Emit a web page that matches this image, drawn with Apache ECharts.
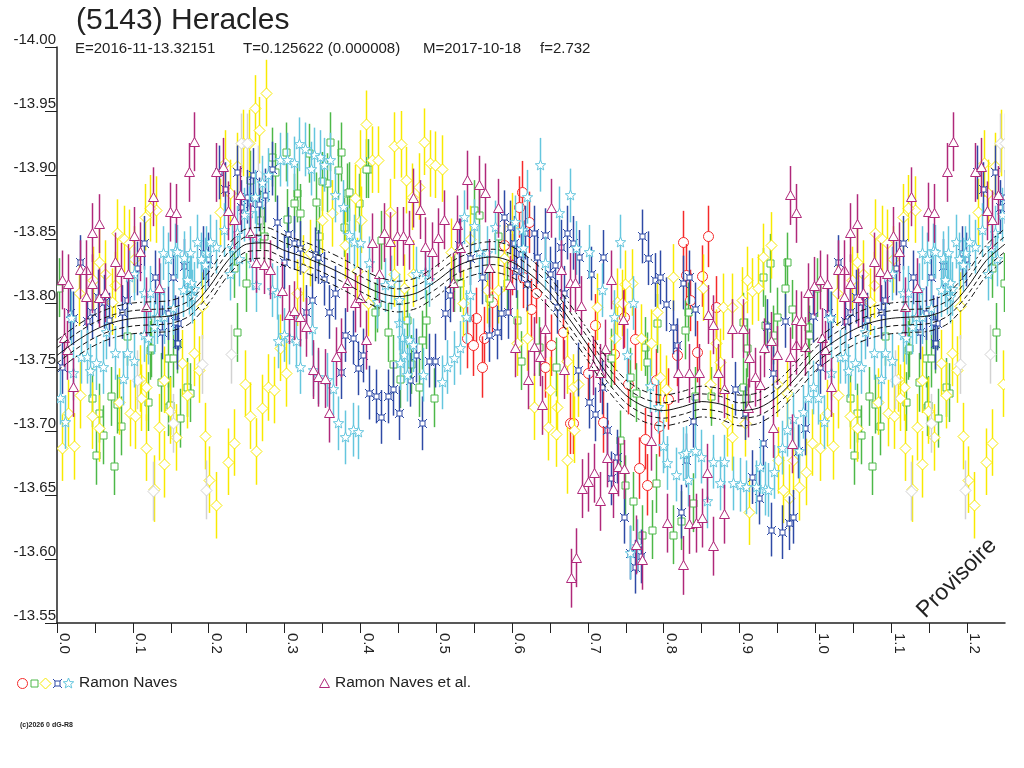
<!DOCTYPE html>
<html>
<head>
<meta charset="utf-8">
<title>(5143) Heracles</title>
<style>
html,body { margin:0; padding:0; width:100%; height:100%; background:#fff; }
#chart { width:1024px; height:768px; }
</style>
<script src="https://cdn.jsdelivr.net/npm/echarts@6/dist/echarts.min.js"></script>
</head>
<body>
<div id="chart"></div>
<script type="text/javascript">
// ---- data (phase, reduced magnitude) ----
var xTickLabels = ['0.0','0.1','0.2','0.3','0.4','0.5','0.6','0.7','0.8','0.9','1.0','1.1','1.2'];

// fitted curve and its envelope, sampled every 0.025 in phase
var curvePhase = [0,0.025,0.05,0.075,0.1,0.125,0.15,0.175,0.2,0.225,0.25,0.275,0.3,0.325,0.35,0.375,0.4,0.425,0.45,0.475,0.5,0.525,0.55,0.575,0.6,0.625,0.65,0.675,0.7,0.725,0.75,0.775,0.8,0.825,0.85,0.875,0.9,0.925,0.95,0.975,1,1.025,1.05,1.075,1.1,1.125,1.15,1.175,1.2,1.225,1.25];
var curveMid = [-13.759,-13.770,-13.779,-13.785,-13.788,-13.789,-13.790,-13.796,-13.812,-13.833,-13.846,-13.847,-13.841,-13.836,-13.830,-13.823,-13.815,-13.808,-13.805,-13.808,-13.817,-13.828,-13.834,-13.836,-13.832,-13.822,-13.808,-13.788,-13.767,-13.745,-13.728,-13.719,-13.716,-13.719,-13.723,-13.721,-13.716,-13.718,-13.727,-13.742,-13.759,-13.770,-13.779,-13.785,-13.788,-13.789,-13.790,-13.796,-13.812,-13.833,-13.846];
var curveUp2 = [-13.771,-13.782,-13.791,-13.797,-13.800,-13.801,-13.802,-13.808,-13.824,-13.845,-13.858,-13.859,-13.853,-13.848,-13.842,-13.835,-13.827,-13.820,-13.817,-13.820,-13.829,-13.840,-13.846,-13.848,-13.844,-13.834,-13.820,-13.800,-13.779,-13.757,-13.740,-13.731,-13.728,-13.731,-13.735,-13.733,-13.728,-13.730,-13.739,-13.754,-13.771,-13.782,-13.791,-13.797,-13.800,-13.801,-13.802,-13.808,-13.824,-13.845,-13.858];
var curveUp1 = [-13.765,-13.776,-13.785,-13.791,-13.794,-13.795,-13.796,-13.802,-13.818,-13.839,-13.852,-13.853,-13.847,-13.842,-13.836,-13.829,-13.821,-13.814,-13.811,-13.814,-13.823,-13.834,-13.840,-13.842,-13.838,-13.828,-13.814,-13.794,-13.773,-13.751,-13.734,-13.725,-13.722,-13.725,-13.729,-13.727,-13.722,-13.724,-13.733,-13.748,-13.765,-13.776,-13.785,-13.791,-13.794,-13.795,-13.796,-13.802,-13.818,-13.839,-13.852];
var curveLo1 = [-13.753,-13.764,-13.773,-13.779,-13.782,-13.783,-13.784,-13.790,-13.806,-13.827,-13.840,-13.841,-13.835,-13.830,-13.824,-13.817,-13.809,-13.802,-13.799,-13.802,-13.811,-13.822,-13.828,-13.830,-13.826,-13.816,-13.802,-13.782,-13.761,-13.739,-13.722,-13.713,-13.710,-13.713,-13.717,-13.715,-13.710,-13.712,-13.721,-13.736,-13.753,-13.764,-13.773,-13.779,-13.782,-13.783,-13.784,-13.790,-13.806,-13.827,-13.840];
var curveLo2 = [-13.747,-13.758,-13.767,-13.773,-13.776,-13.777,-13.778,-13.784,-13.800,-13.821,-13.834,-13.835,-13.829,-13.824,-13.818,-13.811,-13.803,-13.796,-13.793,-13.796,-13.805,-13.816,-13.822,-13.824,-13.820,-13.810,-13.796,-13.776,-13.755,-13.733,-13.716,-13.707,-13.704,-13.707,-13.711,-13.709,-13.704,-13.706,-13.715,-13.730,-13.747,-13.758,-13.767,-13.773,-13.776,-13.777,-13.778,-13.784,-13.800,-13.821,-13.834];

// observations, Ramon Naves (one array per session)
var redPts = [[0.613,-13.887],[0.609,-13.875],[0.623,-13.863],[0.590,-13.845],[0.553,-13.788],[0.540,-13.773],[0.549,-13.767],[0.563,-13.773],[0.560,-13.750],[0.573,-13.801],[0.631,-13.808],[0.652,-13.767],[0.643,-13.750],[0.677,-13.706],[0.825,-13.848],[0.859,-13.852],[0.830,-13.822],[0.851,-13.821],[0.747,-13.789],[0.710,-13.783],[0.667,-13.777],[0.762,-13.772],[0.844,-13.762],[0.817,-13.759],[0.753,-13.737],[0.680,-13.706],[0.720,-13.707],[0.775,-13.694],[0.778,-13.658],[0.767,-13.671],[0.794,-13.704],[0.869,-13.797],[0.834,-13.802],[0.600,-13.830],[0.615,-13.820],[0.700,-13.745],[0.735,-13.760],[0.790,-13.740],[0.805,-13.725],[0.625,-13.795]];
var greenPts = [[0.002,-13.812],[0.046,-13.726],[0.055,-13.714],[0.060,-13.697],[0.051,-13.681],[0.071,-13.727],[0.079,-13.721],[0.085,-13.704],[0.092,-13.774],[0.075,-13.673],[0.122,-13.763],[0.137,-13.738],[0.146,-13.757],[0.153,-13.757],[0.147,-13.719],[0.162,-13.710],[0.172,-13.734],[0.176,-13.730],[0.120,-13.723],[0.149,-13.720],[0.158,-13.768],[0.124,-13.765],[0.238,-13.777],[0.233,-13.827],[0.249,-13.816],[0.254,-13.896],[0.283,-13.914],[0.287,-13.902],[0.302,-13.918],[0.332,-13.917],[0.360,-13.926],[0.375,-13.918],[0.356,-13.894],[0.370,-13.904],[0.316,-13.886],[0.312,-13.878],[0.320,-13.870],[0.341,-13.879],[0.303,-13.866],[0.268,-13.865],[0.273,-13.852],[0.383,-13.886],[0.398,-13.878],[0.410,-13.905],[0.378,-13.859],[0.419,-13.793],[0.408,-13.905],[0.349,-13.895],[0.385,-13.887],[0.346,-13.852],[0.427,-13.849],[0.422,-13.800],[0.437,-13.777],[0.443,-13.752],[0.452,-13.741],[0.461,-13.787],[0.467,-13.752],[0.477,-13.734],[0.481,-13.771],[0.486,-13.787],[0.497,-13.726],[0.524,-13.816],[0.531,-13.816],[0.550,-13.873],[0.556,-13.869],[0.582,-13.852],[0.570,-13.804],[0.593,-13.816],[0.606,-13.787],[0.612,-13.755],[0.635,-13.766],[0.658,-13.750],[0.940,-13.831],[0.963,-13.832],[0.960,-13.812],[0.931,-13.820],[0.969,-13.795],[0.949,-13.789],[0.933,-13.783],[0.944,-13.775],[0.990,-13.781],[0.992,-13.775],[0.910,-13.765],[0.905,-13.785],[0.904,-13.734],[0.832,-13.793],[0.828,-13.779],[0.791,-13.784],[0.775,-13.766],[0.778,-13.754],[0.755,-13.742],[0.764,-13.730],[0.730,-13.757],[0.742,-13.693],[0.749,-13.658],[0.760,-13.645],[0.771,-13.619],[0.784,-13.623],[0.790,-13.659],[0.812,-13.619],[0.823,-13.630],[0.838,-13.644],[0.841,-13.727],[0.863,-13.727],[0.909,-13.726]];
var yellowPts = [[0.275,-13.964],[0.261,-13.952],[0.267,-13.935],[0.245,-13.925],[0.253,-13.925],[0.222,-13.909],[0.237,-13.907],[0.215,-13.871],[0.228,-13.886],[0.131,-13.873],[0.122,-13.874],[0.116,-13.867],[0.079,-13.855],[0.088,-13.850],[0.095,-13.847],[0.102,-13.834],[0.055,-13.832],[0.063,-13.823],[0.048,-13.818],[0.077,-13.814],[0.029,-13.808],[0.072,-13.801],[0.191,-13.798],[0.316,-13.808],[0.333,-13.839],[0.325,-13.827],[0.006,-13.687],[0.023,-13.688],[0.046,-13.712],[0.055,-13.702],[0.015,-13.714],[0.030,-13.728],[0.082,-13.723],[0.096,-13.714],[0.103,-13.712],[0.109,-13.741],[0.117,-13.734],[0.111,-13.726],[0.118,-13.687],[0.128,-13.655],[0.134,-13.703],[0.141,-13.674],[0.141,-13.740],[0.149,-13.716],[0.157,-13.695],[0.165,-13.753],[0.180,-13.761],[0.187,-13.748],[0.172,-13.728],[0.195,-13.696],[0.201,-13.662],[0.209,-13.642],[0.225,-13.676],[0.233,-13.691],[0.248,-13.737],[0.255,-13.712],[0.262,-13.684],[0.270,-13.718],[0.278,-13.734],[0.286,-13.732],[0.294,-13.765],[0.302,-13.745],[0.407,-13.940],[0.444,-13.923],[0.453,-13.924],[0.484,-13.926],[0.399,-13.909],[0.415,-13.912],[0.423,-13.912],[0.492,-13.909],[0.498,-13.908],[0.507,-13.905],[0.460,-13.896],[0.477,-13.891],[0.468,-13.883],[0.362,-13.870],[0.349,-13.865],[0.393,-13.882],[0.401,-13.865],[0.439,-13.871],[0.444,-13.823],[0.458,-13.812],[0.470,-13.823],[0.582,-13.810],[0.567,-13.810],[0.606,-13.769],[0.620,-13.773],[0.650,-13.732],[0.659,-13.719],[0.629,-13.719],[0.648,-13.703],[0.658,-13.698],[0.672,-13.755],[0.520,-13.840],[0.535,-13.800],[0.545,-13.850],[0.590,-13.835],[0.600,-13.860],[0.380,-13.845],[0.395,-13.825],[0.410,-13.800],[0.941,-13.845],[0.931,-13.836],[0.910,-13.818],[0.917,-13.809],[0.924,-13.812],[0.903,-13.802],[0.812,-13.820],[0.852,-13.812],[0.791,-13.793],[0.758,-13.816],[0.749,-13.815],[0.738,-13.801],[0.745,-13.800],[0.712,-13.797],[0.878,-13.797],[0.890,-13.797],[0.869,-13.769],[0.874,-13.754],[0.783,-13.769],[0.770,-13.773],[0.736,-13.773],[0.680,-13.734],[0.687,-13.737],[0.795,-13.742],[0.803,-13.733],[0.861,-13.737],[0.883,-13.706],[0.890,-13.695],[0.673,-13.677],[0.682,-13.701],[0.949,-13.737],[0.962,-13.730],[0.951,-13.677],[0.970,-13.677],[0.979,-13.656],[0.957,-13.654],[0.965,-13.648],[0.988,-13.668],[0.996,-13.691],[0.913,-13.637],[0.907,-13.706]];
var greyPts = [[0.126,-13.653],[0.197,-13.654],[0.243,-13.925],[0.250,-13.925],[0.191,-13.752],[0.153,-13.706],[0.265,-13.900],[0.270,-13.880],[0.105,-13.740],[0.230,-13.760]];
var bluePts = [[0.030,-13.832],[0.017,-13.792],[0.046,-13.793],[0.054,-13.805],[0.062,-13.801],[0.092,-13.802],[0.106,-13.827],[0.115,-13.847],[0.129,-13.820],[0.153,-13.820],[0.168,-13.829],[0.146,-13.792],[0.160,-13.784],[0.213,-13.902],[0.237,-13.902],[0.221,-13.889],[0.259,-13.900],[0.254,-13.878],[0.274,-13.884],[0.267,-13.877],[0.283,-13.905],[0.290,-13.863],[0.305,-13.854],[0.312,-13.847],[0.299,-13.832],[0.336,-13.802],[0.328,-13.793],[0.340,-13.838],[0.243,-13.875],[0.250,-13.883],[0.193,-13.839],[0.199,-13.834],[0.006,-13.750],[0.021,-13.788],[0.039,-13.786],[0.086,-13.793],[0.068,-13.787],[0.138,-13.777],[0.158,-13.769],[0.155,-13.785],[0.320,-13.843],[0.344,-13.836],[0.352,-13.819],[0.366,-13.808],[0.358,-13.793],[0.380,-13.775],[0.390,-13.773],[0.403,-13.759],[0.397,-13.749],[0.374,-13.746],[0.412,-13.730],[0.420,-13.727],[0.436,-13.727],[0.427,-13.711],[0.451,-13.714],[0.443,-13.733],[0.473,-13.759],[0.490,-13.755],[0.498,-13.755],[0.481,-13.706],[0.465,-13.740],[0.511,-13.792],[0.518,-13.806],[0.530,-13.845],[0.545,-13.835],[0.561,-13.820],[0.570,-13.775],[0.580,-13.777],[0.586,-13.792],[0.595,-13.793],[0.589,-13.867],[0.597,-13.859],[0.602,-13.847],[0.605,-13.825],[0.612,-13.838],[0.620,-13.815],[0.617,-13.855],[0.629,-13.855],[0.643,-13.853],[0.633,-13.836],[0.650,-13.823],[0.656,-13.830],[0.668,-13.808],[0.672,-13.855],[0.680,-13.847],[0.665,-13.844],[0.659,-13.797],[0.688,-13.836],[0.704,-13.823],[0.720,-13.836],[0.772,-13.852],[0.779,-13.835],[0.788,-13.818],[0.795,-13.820],[0.803,-13.799],[0.812,-13.781],[0.817,-13.767],[0.826,-13.816],[0.833,-13.820],[0.841,-13.795],[0.687,-13.748],[0.701,-13.723],[0.710,-13.713],[0.718,-13.734],[0.725,-13.701],[0.731,-13.663],[0.738,-13.680],[0.747,-13.633],[0.755,-13.605],[0.770,-13.602],[0.762,-13.594],[0.823,-13.637],[0.830,-13.677],[0.838,-13.708],[0.894,-13.733],[0.907,-13.714],[0.916,-13.664],[0.925,-13.648],[0.941,-13.623],[0.956,-13.621],[0.965,-13.628],[0.970,-13.633],[0.931,-13.691],[0.944,-13.745],[0.936,-13.782],[0.960,-13.786],[0.986,-13.702],[0.977,-13.684],[0.997,-13.790]];
var cyanPts = [[0.319,-13.924],[0.327,-13.920],[0.339,-13.916],[0.294,-13.912],[0.303,-13.912],[0.312,-13.909],[0.335,-13.905],[0.278,-13.900],[0.270,-13.894],[0.261,-13.883],[0.253,-13.870],[0.246,-13.869],[0.263,-13.851],[0.257,-13.831],[0.263,-13.814],[0.283,-13.810],[0.290,-13.808],[0.237,-13.855],[0.220,-13.857],[0.231,-13.843],[0.210,-13.844],[0.202,-13.848],[0.185,-13.848],[0.197,-13.839],[0.190,-13.834],[0.175,-13.839],[0.155,-13.841],[0.140,-13.839],[0.147,-13.834],[0.168,-13.835],[0.101,-13.823],[0.095,-13.820],[0.115,-13.808],[0.122,-13.808],[0.136,-13.810],[0.166,-13.810],[0.174,-13.812],[0.180,-13.811],[0.178,-13.805],[0.195,-13.830],[0.228,-13.823],[0.240,-13.834],[0.132,-13.789],[0.141,-13.789],[0.128,-13.781],[0.115,-13.775],[0.120,-13.773],[0.065,-13.777],[0.019,-13.788],[0.299,-13.775],[0.306,-13.773],[0.336,-13.780],[0.004,-13.726],[0.011,-13.707],[0.021,-13.745],[0.032,-13.758],[0.039,-13.758],[0.043,-13.747],[0.052,-13.753],[0.060,-13.750],[0.077,-13.761],[0.092,-13.761],[0.101,-13.755],[0.087,-13.741],[0.153,-13.796],[0.158,-13.840],[0.177,-13.816],[0.171,-13.818],[0.292,-13.770],[0.315,-13.770],[0.321,-13.750],[0.337,-13.748],[0.344,-13.742],[0.356,-13.740],[0.364,-13.733],[0.370,-13.706],[0.380,-13.695],[0.390,-13.701],[0.397,-13.699],[0.637,-13.908],[0.676,-13.884],[0.620,-13.883],[0.662,-13.870],[0.347,-13.914],[0.360,-13.912],[0.352,-13.908],[0.366,-13.884],[0.377,-13.875],[0.385,-13.853],[0.391,-13.848],[0.400,-13.847],[0.412,-13.831],[0.422,-13.801],[0.432,-13.814],[0.441,-13.816],[0.451,-13.784],[0.455,-13.773],[0.464,-13.771],[0.470,-13.767],[0.457,-13.759],[0.452,-13.753],[0.461,-13.744],[0.482,-13.744],[0.507,-13.738],[0.514,-13.750],[0.523,-13.757],[0.531,-13.765],[0.539,-13.789],[0.545,-13.806],[0.474,-13.823],[0.485,-13.824],[0.491,-13.818],[0.536,-13.867],[0.550,-13.860],[0.557,-13.840],[0.567,-13.839],[0.577,-13.859],[0.604,-13.863],[0.613,-13.857],[0.643,-13.831],[0.615,-13.843],[0.451,-13.802],[0.742,-13.848],[0.684,-13.843],[0.701,-13.840],[0.718,-13.810],[0.759,-13.800],[0.734,-13.789],[0.751,-13.759],[0.782,-13.735],[0.792,-13.719],[0.799,-13.688],[0.804,-13.675],[0.816,-13.666],[0.825,-13.682],[0.830,-13.683],[0.841,-13.684],[0.849,-13.680],[0.832,-13.662],[0.857,-13.645],[0.865,-13.676],[0.874,-13.659],[0.880,-13.676],[0.891,-13.659],[0.900,-13.658],[0.909,-13.656],[0.922,-13.656],[0.933,-13.655],[0.937,-13.654],[0.946,-13.668],[0.956,-13.687],[0.970,-13.709],[0.963,-13.701],[0.979,-13.684],[0.990,-13.726],[0.997,-13.734],[0.983,-13.715],[0.927,-13.672],[0.755,-13.605],[0.765,-13.610]];
// observations, Ramon Naves et al.
var purplePts = [[0.181,-13.926],[0.174,-13.902],[0.126,-13.883],[0.149,-13.871],[0.157,-13.870],[0.055,-13.862],[0.046,-13.855],[0.102,-13.852],[0.110,-13.840],[0.077,-13.832],[0.030,-13.826],[0.038,-13.826],[0.085,-13.824],[0.094,-13.823],[0.046,-13.815],[0.006,-13.818],[0.015,-13.815],[0.038,-13.805],[0.056,-13.804],[0.063,-13.808],[0.134,-13.812],[0.118,-13.797],[0.210,-13.902],[0.219,-13.906],[0.226,-13.872],[0.233,-13.865],[0.241,-13.884],[0.255,-13.855],[0.263,-13.831],[0.273,-13.830],[0.281,-13.826],[0.297,-13.809],[0.306,-13.791],[0.312,-13.794],[0.320,-13.789],[0.328,-13.781],[0.009,-13.773],[0.021,-13.734],[0.013,-13.763],[0.337,-13.748],[0.344,-13.742],[0.354,-13.741],[0.358,-13.714],[0.368,-13.758],[0.375,-13.765],[0.393,-13.800],[0.400,-13.804],[0.407,-13.771],[0.415,-13.847],[0.382,-13.816],[0.540,-13.896],[0.556,-13.892],[0.564,-13.886],[0.470,-13.882],[0.478,-13.873],[0.510,-13.865],[0.527,-13.861],[0.582,-13.874],[0.652,-13.874],[0.431,-13.855],[0.439,-13.848],[0.448,-13.852],[0.456,-13.852],[0.464,-13.849],[0.485,-13.844],[0.494,-13.840],[0.503,-13.851],[0.532,-13.843],[0.570,-13.827],[0.424,-13.823],[0.597,-13.814],[0.604,-13.765],[0.621,-13.740],[0.629,-13.766],[0.637,-13.758],[0.643,-13.780],[0.639,-13.720],[0.668,-13.748],[0.665,-13.826],[0.676,-13.816],[0.522,-13.816],[0.683,-13.816],[0.691,-13.798],[0.730,-13.818],[0.746,-13.787],[0.707,-13.751],[0.722,-13.764],[0.716,-13.745],[0.692,-13.655],[0.700,-13.660],[0.708,-13.667],[0.716,-13.645],[0.725,-13.679],[0.733,-13.655],[0.740,-13.672],[0.747,-13.670],[0.764,-13.611],[0.771,-13.599],[0.684,-13.601],[0.678,-13.585],[0.783,-13.692],[0.804,-13.628],[0.825,-13.595],[0.833,-13.627],[0.842,-13.628],[0.850,-13.632],[0.865,-13.610],[0.880,-13.635],[0.857,-13.667],[0.819,-13.745],[0.833,-13.745],[0.847,-13.745],[0.872,-13.745],[0.858,-13.791],[0.865,-13.783],[0.880,-13.733],[0.890,-13.780],[0.904,-13.780],[0.912,-13.757],[0.920,-13.742],[0.927,-13.736],[0.942,-13.770],[0.932,-13.765],[0.950,-13.759],[0.966,-13.758],[0.975,-13.767],[0.986,-13.766],[0.990,-13.808],[0.998,-13.813],[0.974,-13.787],[0.981,-13.786],[0.911,-13.718],[0.944,-13.702],[0.969,-13.690],[0.966,-13.884],[0.975,-13.870]];

// half length of the error bars (mag)
var redErr = 0.024, greenErr = 0.023, yellowErr = 0.026, greyErr = 0.023;
var blueErr = 0.021, cyanErr = 0.021, purpleErr = 0.023;

var FONT = '"Liberation Sans", Arial, sans-serif';
var INK = '#222';

// the plot repeats phases 0 - 0.25 after phase 1
function wrapPhase(points) {
  var out = points.slice();
  points.forEach(function (p) {
    if (p[0] + 1 <= 1.25) out.push([p[0] + 1, p[1]]);
  });
  return out;
}

// hollow marker shapes
function marker(kind, x, y, color) {
  var st = { fill: '#fff', stroke: color, lineWidth: 1 };
  if (kind === 'circle') {
    return { type: 'circle', shape: { cx: x, cy: y, r: 5 }, style: st };
  } else if (kind === 'square') {
    return { type: 'rect', shape: { x: x - 3.5, y: y - 3.5, width: 7, height: 7 }, style: st };
  } else if (kind === 'diamond') {
    return { type: 'polygon', shape: { points: [[x, y - 5.5], [x + 5.5, y], [x, y + 5.5], [x - 5.5, y]] }, style: st };
  } else if (kind === 'triangle') {
    return { type: 'polygon', shape: { points: [[x, y - 5], [x + 5, y + 4], [x - 5, y + 4]] }, style: st };
  } else if (kind === 'star') {
    var pts = [];
    for (var k = 0; k < 10; k++) {
      var a = -Math.PI / 2 + k * Math.PI / 5;
      var r = (k % 2 === 0) ? 5.5 : 2.4;
      pts.push([x + r * Math.cos(a), y + r * Math.sin(a)]);
    }
    return { type: 'polygon', shape: { points: pts }, style: st };
  }
  // square with little spikes on the corners
  return {
    type: 'group',
    children: [
      { type: 'rect', shape: { x: x - 2.5, y: y - 2.5, width: 5, height: 5 }, style: st },
      { type: 'line', shape: { x1: x - 2.5, y1: y - 2.5, x2: x - 4.5, y2: y - 4.5 }, style: { stroke: color, lineWidth: 1 } },
      { type: 'line', shape: { x1: x + 2.5, y1: y - 2.5, x2: x + 4.5, y2: y - 4.5 }, style: { stroke: color, lineWidth: 1 } },
      { type: 'line', shape: { x1: x - 2.5, y1: y + 2.5, x2: x - 4.5, y2: y + 4.5 }, style: { stroke: color, lineWidth: 1 } },
      { type: 'line', shape: { x1: x + 2.5, y1: y + 2.5, x2: x + 4.5, y2: y + 4.5 }, style: { stroke: color, lineWidth: 1 } }
    ]
  };
}

function obsSeries(name, points, kind, color, err) {
  return {
    name: name,
    type: 'custom',
    clip: true,
    data: wrapPhase(points),
    renderItem: function (params, api) {
      var ph = api.value(0), mag = api.value(1);
      var c = api.coord([ph, mag]);
      var top = api.coord([ph, mag - err]);
      var bot = api.coord([ph, mag + err]);
      var x = Math.round(c[0]) + 0.5, y = Math.round(c[1]) + 0.5;
      return {
        type: 'group',
        children: [
          { type: 'line', shape: { x1: x, y1: top[1], x2: x, y2: bot[1] }, style: { stroke: color, lineWidth: 1.5 } },
          marker(kind, x, y, color)
        ]
      };
    }
  };
}

function curveSeries(values, dash, width) {
  return {
    type: 'line',
    data: curvePhase.map(function (p, i) { return [p, values[i]]; }),
    smooth: 0.3,
    symbol: 'none',
    silent: true,
    z: 5,
    lineStyle: { color: '#111', width: width, type: dash }
  };
}

var chart = echarts.init(document.getElementById('chart'));
var option = {
  animation: false,
  backgroundColor: '#fff',
  textStyle: { fontFamily: FONT },
  grid: { left: 57, right: 19, top: 47, bottom: 145 },
  xAxis: {
    type: 'value',
    min: 0,
    max: 1.25,
    interval: 0.05,
    splitLine: { show: false },
    axisLine: { onZero: false, lineStyle: { color: INK, width: 1.5 } },
    axisTick: { length: 10, lineStyle: { color: INK, width: 1 } },
    axisLabel: {
      rotate: -90,
      margin: 10,
      verticalAlign: 'bottom',
      fontSize: 15,
      color: INK,
      fontFamily: FONT,
      showMaxLabel: false,
      formatter: function (v) {
        var i = Math.round(v * 10);
        return Math.abs(v * 10 - i) < 1e-6 ? (xTickLabels[i] || '') : '';
      }
    }
  },
  yAxis: {
    type: 'value',
    inverse: true,
    min: -14.0,
    max: -13.55,
    interval: 0.05,
    splitLine: { show: false },
    axisLine: { onZero: false, lineStyle: { color: INK, width: 1.5 } },
    axisTick: { length: 12, lineStyle: { color: INK, width: 1 } },
    axisLabel: {
      margin: 1,
      verticalAlign: 'bottom',
      fontSize: 15,
      color: INK,
      fontFamily: FONT,
      formatter: function (v) { return v.toFixed(2); }
    }
  },
  series: [
    obsSeries('red', redPts, 'circle', '#f52a2a', redErr),
    obsSeries('green', greenPts, 'square', '#4db848', greenErr),
    obsSeries('yellow', yellowPts, 'diamond', '#f8ea00', yellowErr),
    obsSeries('grey', greyPts, 'diamond', '#d2d2d2', greyErr),
    obsSeries('blue', bluePts, 'cross', '#2e4aa6', blueErr),
    obsSeries('cyan', cyanPts, 'star', '#64c6de', cyanErr),
    obsSeries('purple', purplePts, 'triangle', '#b0287a', purpleErr),
    curveSeries(curveUp2, [6, 3, 2, 3], 1),
    curveSeries(curveUp1, [5, 3], 1),
    curveSeries(curveMid, 'solid', 1),
    curveSeries(curveLo1, [5, 3], 1),
    curveSeries(curveLo2, [6, 3, 2, 3], 1)
  ],
  graphic: [
    { type: 'text', left: 76, top: 6, style: { text: '(5143) Heracles', font: '30px ' + FONT, fill: INK } },
    { type: 'text', left: 75, top: 41, style: { text: 'E=2016-11-13.32151', font: '15px ' + FONT, fill: INK } },
    { type: 'text', left: 243, top: 41, style: { text: 'T=0.125622 (0.000008)', font: '15px ' + FONT, fill: INK } },
    { type: 'text', left: 423, top: 41, style: { text: 'M=2017-10-18', font: '15px ' + FONT, fill: INK } },
    { type: 'text', left: 540, top: 41, style: { text: 'f=2.732', font: '15px ' + FONT, fill: INK } },
    {
      type: 'text', x: 957, y: 578, rotation: Math.PI / 4, z: 20,
      style: { text: 'Provisoire', font: '23px ' + FONT, fill: INK, align: 'center', verticalAlign: 'middle' }
    },
    marker('circle', 22.5, 683.5, '#f52a2a'),
    marker('square', 34.5, 683.5, '#4db848'),
    marker('diamond', 45.5, 683.5, '#f8ea00'),
    marker('cross', 57.5, 683.5, '#2e4aa6'),
    marker('star', 68.5, 683.5, '#64c6de'),
    { type: 'text', x: 79, y: 683, style: { text: 'Ramon Naves', font: '15.5px ' + FONT, fill: INK, verticalAlign: 'middle' } },
    marker('triangle', 324.5, 683.5, '#b0287a'),
    { type: 'text', x: 335, y: 683, style: { text: 'Ramon Naves et al.', font: '15.5px ' + FONT, fill: INK, verticalAlign: 'middle' } },
    { type: 'text', x: 20, y: 725, style: { text: '(c)2026 0 dG-R8', font: 'bold 7px ' + FONT, fill: INK, verticalAlign: 'middle' } }
  ]
};
chart.setOption(option);
</script>
</body>
</html>
